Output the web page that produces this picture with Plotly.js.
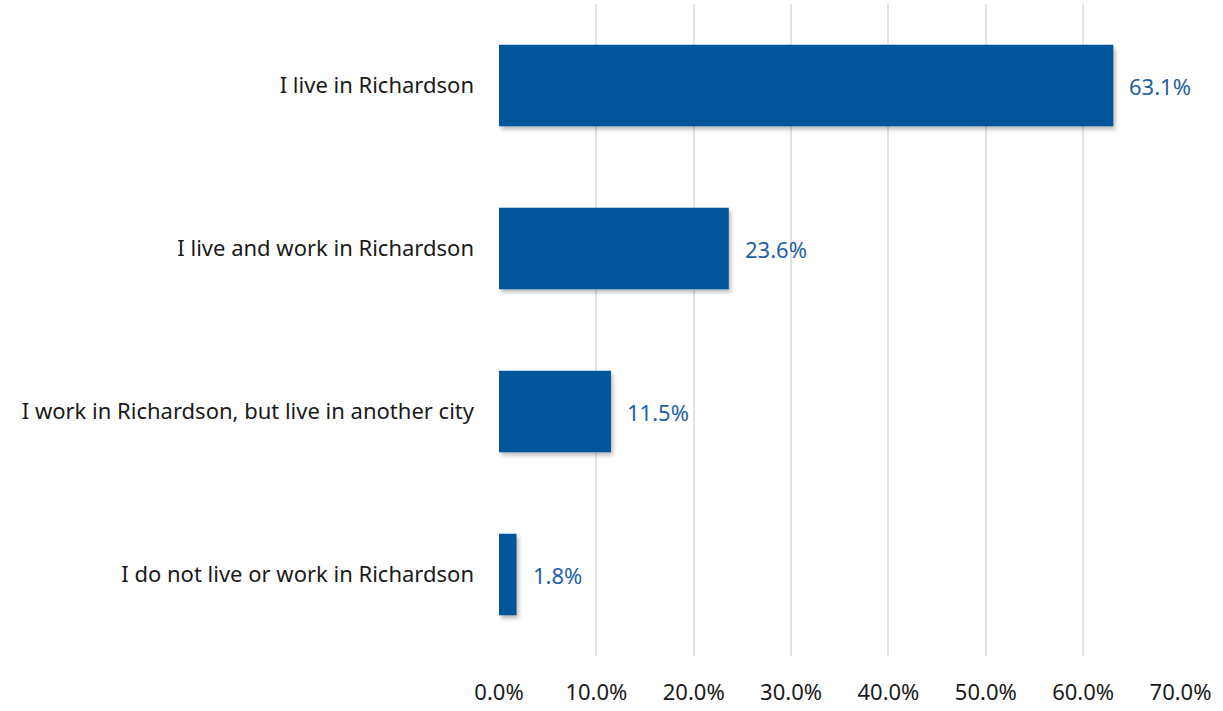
<!DOCTYPE html>
<html>
<head>
<meta charset="utf-8">
<script src="https://cdn.plot.ly/plotly-3.0.1.min.js"></script>
<style>
html,body{margin:0;padding:0;background:#fff;}
#chart{width:1223px;height:711px;}
.barlayer .point path{filter:drop-shadow(2px 3px 2px rgba(0,0,0,0.28));}
</style>
</head>
<body>
<div id="chart"></div>
<script>
var categories = [
  "I live in Richardson",
  "I live and work in Richardson",
  "I work in Richardson, but live in another city",
  "I do not live or work in Richardson"
];
var values = [63.1, 23.6, 11.5, 1.8];
var tickVals = [0, 10, 20, 30, 40, 50, 60, 70];
var tickText = ["0.0%", "10.0%", "20.0%", "30.0%", "40.0%", "50.0%", "60.0%", "70.0%"];

var fontFam = "'Noto Sans', 'Open Sans', sans-serif";

var trace = {
  type: "bar",
  orientation: "h",
  x: values,
  y: categories,
  width: 0.5,
  marker: {color: "#00559B"},
  hoverinfo: "skip"
};

var annotations = values.map(function(v, i){
  return {
    x: v, y: categories[i], xref: "x", yref: "y",
    text: v.toFixed(1) + "%",
    showarrow: false, xanchor: "left", yanchor: "middle",
    xshift: 14,
    font: {family: fontFam, size: 22, color: "#1F5FA8"}
  };
});

var layout = {
  width: 1223, height: 711,
  margin: {l: 499, r: 42, t: 4, b: 55},
  paper_bgcolor: "#fff", plot_bgcolor: "#fff",
  showlegend: false,
  bargap: 0.5,
  font: {family: fontFam, size: 22, color: "#1a1a1a"},
  xaxis: {
    range: [0, 70.05],
    tickvals: tickVals, ticktext: tickText,
    showgrid: true, gridcolor: "#E0E3EA", gridwidth: 2,
    zeroline: false, showline: false,
    ticks: "", ticklabelstandoff: 21,
    tickfont: {family: fontFam, size: 22, color: "#1a1a1a"},
    fixedrange: true
  },
  yaxis: {
    type: "category",
    categoryorder: "array", categoryarray: categories,
    range: [3.5, -0.5],
    showgrid: false, zeroline: false, showline: false,
    ticks: "", ticklabelstandoff: 24,
    tickfont: {family: fontFam, size: 22, color: "#1a1a1a"},
    fixedrange: true
  },
  annotations: annotations
};

Plotly.newPlot("chart", [trace], layout, {displayModeBar: false, staticPlot: true});
</script>
</body>
</html>
